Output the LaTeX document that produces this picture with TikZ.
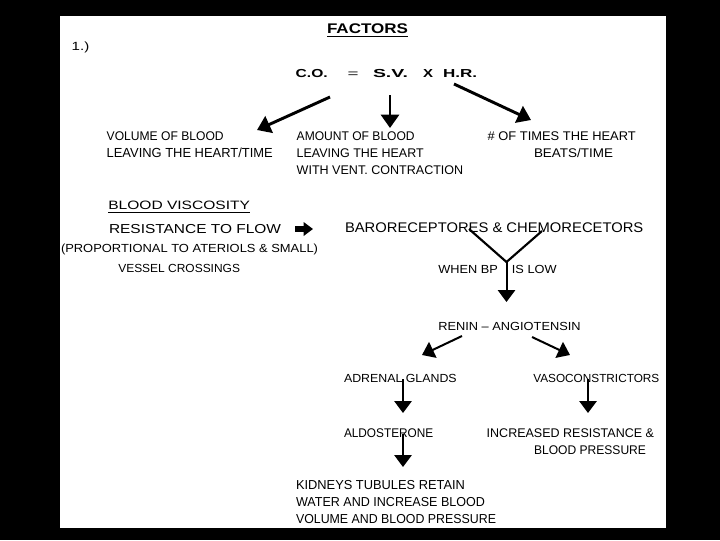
\documentclass[tikz,border=0pt]{standalone}
\usepackage{fontspec}
\setmainfont{Liberation Sans}
\usetikzlibrary{arrows.meta}
\newlength\pxu \setlength\pxu{0.75pt}
% \fw[cap height px]{width px}{text}
\newcommand\fw[3][9]{\resizebox{#2\pxu}{\height}{\fontsize{\fpeval{#1*1.0475}pt}{12pt}\selectfont #3}}
\tikzset{
  lbl/.style={anchor=base west, inner sep=0pt, outer sep=0pt, font=\fontsize{10}{12}\selectfont},
  bld/.style={lbl, font=\fontsize{10}{12}\selectfont\bfseries},
  arr/.style={line width=1.5pt, -{Triangle[length=9pt,width=13pt]}},
  darr/.style={line width=2.2pt, -{Triangle[length=10pt,width=13.5pt]}},
  fat/.style={line width=3.8pt, -{Triangle[length=7pt,width=10pt]}},
  seg/.style={line width=1.6pt},
  uline/.style={line width=0.9pt}
}
\begin{document}
\begin{tikzpicture}[x=0.75pt,y=-0.75pt]
\useasboundingbox (0,0) rectangle (720,540);
\fill[black] (0,0) rectangle (720,540);
\fill[white] (60,16) rectangle (666,528);

% title and equation
\node[bld] (factors) at (327,33.5) {\fw[10]{81}{FACTORS}};
\draw[uline] (327,36.8) -- (408,36.8);
\node[lbl] (num) at (71.7,50) {\fw[8.5]{17.6}{1.)}};
\node[bld] (co) at (295.7,77) {\fw[8.3]{32}{C.O.}};
\node[lbl] (eq) at (347.5,77) {\fw[8]{11}{=}};
\node[bld] (sv) at (373,77) {\fw[8.3]{35}{S.V.}};
\node[bld] (x) at (423,77) {\fw[8.3]{10}{X}};
\node[bld] (hr) at (443,77) {\fw[8.3]{34}{H.R.}};

\coordinate (a1s) at (330,97);  \coordinate (a1e) at (257,130);
\coordinate (a2s) at (390,95);  \coordinate (a2e) at (390,128);
\coordinate (a3s) at (454,84);  \coordinate (a3e) at (531,120);
\draw[darr] (a1s) -- (a1e);
\draw[darr] (a2s) -- (a2e);
\draw[darr] (a3s) -- (a3e);

\node[lbl] (vol1) at (106.7,140) {\fw{117}{VOLUME OF BLOOD}};
\node[lbl] (vol2) at (106.7,157) {\fw[9.4]{166}{LEAVING THE HEART/TIME}};
\node[lbl] (amt1) at (296.7,140) {\fw{118}{AMOUNT OF BLOOD}};
\node[lbl] (amt2) at (296.7,157) {\fw{127}{LEAVING THE HEART}};
\node[lbl] (amt3) at (296.7,174) {\fw{166.6}{WITH VENT. CONTRACTION}};
\node[lbl] (hr1) at (487.7,140) {\fw{148}{\# OF TIMES THE HEART}};
\node[lbl] (hr2) at (534,157) {\fw{79}{BEATS/TIME}};

% left block
\node[lbl] (visc) at (108.3,209) {\fw[8.7]{141.7}{BLOOD VISCOSITY}};
\draw[line width=0.75pt] (108.3,212.5) -- (250,212.5);
\node[lbl] (res) at (109,233) {\fw[9.3]{172}{RESISTANCE TO FLOW}};
\node[lbl] (prop) at (61,252) {\fw[8.4]{257}{(PROPORTIONAL TO ATERIOLS \& SMALL)}};
\node[lbl] (vessel) at (118.3,272) {\fw[8.4]{121.7}{VESSEL CROSSINGS}};
\coordinate (fs) at (295,229); \coordinate (fe) at (313,229);
\draw[fat] (fs) -- (fe);

% right chain
\node[lbl] (baro) at (345,232) {\fw[10]{298.3}{BARORECEPTORES \& CHEMORECETORS}};
\coordinate (yl) at (469,229); \coordinate (yr) at (542,231);
\coordinate (yj) at (506.5,262); \coordinate (ye) at (506.5,302);
\draw[seg] (yl) -- (yj) -- (yr);
\node[lbl] (when) at (438.3,273) {\fw[8.4]{118.3}{WHEN BP\hspace{1.1em}IS LOW}};
\draw[arr] (yj) -- (ye);
\node[lbl] (renin) at (438.3,330) {\fw[8.4]{142.4}{RENIN – ANGIOTENSIN}};
\coordinate (r1s) at (462,336); \coordinate (r1e) at (422,355);
\coordinate (r2s) at (532,337); \coordinate (r2e) at (570,355);
\draw[arr] (r1s) -- (r1e);
\draw[arr] (r2s) -- (r2e);

\node[lbl] (adr) at (344,382) {\fw[8.4]{112.7}{ADRENAL GLANDS}};
\node[lbl] (vaso) at (533.3,382) {\fw[8.4]{126}{VASOCONSTRICTORS}};
\coordinate (d1s) at (403,379); \coordinate (d1e) at (403,413);
\coordinate (d2s) at (588,379); \coordinate (d2e) at (588,413);
\draw[arr] (d1s) -- (d1e);
\draw[arr] (d2s) -- (d2e);

\node[lbl] (ald) at (344,437) {\fw{89.3}{ALDOSTERONE}};
\node[lbl] (inc) at (486.7,437) {\fw{167.3}{INCREASED RESISTANCE \&}};
\node[lbl] (bp) at (534,454) {\fw{112}{BLOOD PRESSURE}};
\coordinate (d3s) at (403,434); \coordinate (d3e) at (403,467);
\draw[arr] (d3s) -- (d3e);

\node[lbl] (kid1) at (296,489) {\fw[9.3]{169}{KIDNEYS TUBULES RETAIN}};
\node[lbl] (kid2) at (296,506) {\fw[9.3]{189}{WATER AND INCREASE BLOOD}};
\node[lbl] (kid3) at (296,523) {\fw[9.3]{200}{VOLUME AND BLOOD PRESSURE}};
\end{tikzpicture}
\end{document}
